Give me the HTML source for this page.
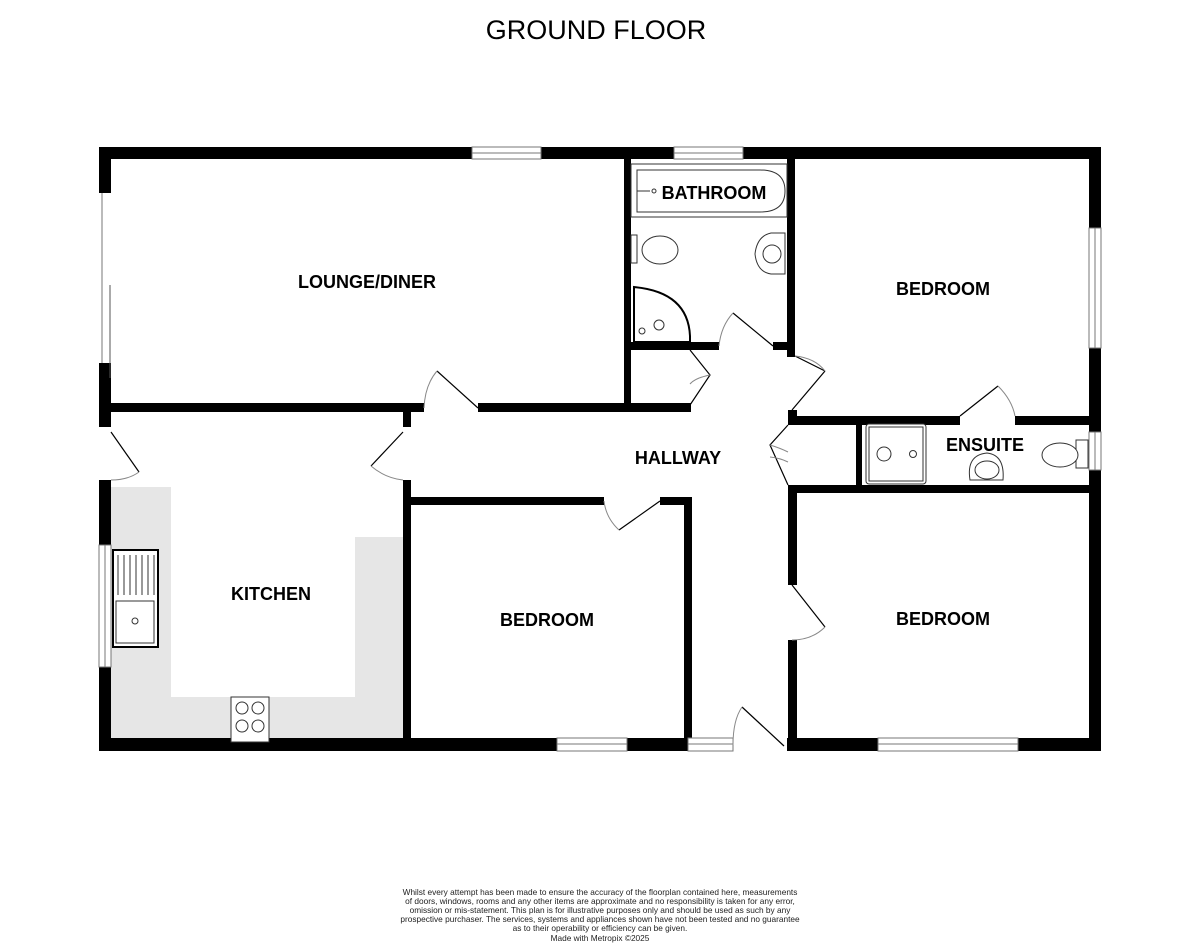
<!DOCTYPE html>
<html><head><meta charset="utf-8"><style>
html,body{margin:0;padding:0;background:#fff;}
svg{display:block}
text{font-family:"Liberation Sans",Arial,sans-serif}
.lbl{font-weight:bold;font-size:18px;text-anchor:middle}
.d{stroke:#000;stroke-width:1.2;fill:none}
.a{stroke:#888;stroke-width:1;fill:none}
.f{stroke:#333;stroke-width:1;fill:#fff}
</style></head><body>
<svg width="1200" height="946" viewBox="0 0 1200 946" xmlns="http://www.w3.org/2000/svg">
<text x="596" y="39" font-size="27" text-anchor="middle">GROUND FLOOR</text>

<path d="M111 487 H171 V697 H355 V537 H403 V738 H111 Z" fill="#e6e6e6"/>

<g fill="#000">
<rect x="99" y="147" width="373" height="12"/>
<rect x="541" y="147" width="133" height="12"/>
<rect x="743" y="147" width="358" height="12"/>
<rect x="99" y="738" width="458" height="13"/>
<rect x="627" y="738" width="61" height="13"/>
<rect x="787" y="738" width="91" height="13"/>
<rect x="1018" y="738" width="83" height="13"/>
<rect x="99" y="147" width="12" height="46"/>
<rect x="99" y="363" width="12" height="64"/>
<rect x="99" y="480" width="12" height="65"/>
<rect x="99" y="667" width="12" height="84"/>
<rect x="1089" y="147" width="12" height="81"/>
<rect x="1089" y="348" width="12" height="84"/>
<rect x="1089" y="470" width="12" height="281"/>
<rect x="99" y="403" width="325" height="9"/>
<rect x="478" y="403" width="213" height="9"/>
<rect x="403" y="403" width="8" height="24"/>
<rect x="403" y="480" width="8" height="271"/>
<rect x="624" y="155" width="7" height="256"/>
<rect x="624" y="342" width="95" height="8"/>
<rect x="773" y="342" width="22" height="8"/>
<rect x="787" y="155" width="8" height="202"/>
<rect x="788" y="410" width="9" height="15"/>
<rect x="788" y="485" width="9" height="100"/>
<rect x="788" y="640" width="9" height="111"/>
<rect x="788" y="416" width="172" height="9"/>
<rect x="1015" y="416" width="86" height="9"/>
<rect x="788" y="485" width="313" height="8"/>
<rect x="856" y="420" width="6" height="70"/>
<rect x="403" y="497" width="201" height="8"/>
<rect x="660" y="497" width="32" height="8"/>
<rect x="684" y="497" width="8" height="254"/>
</g>

<g fill="#fff" stroke="#777" stroke-width="1">
<rect x="472" y="147" width="69" height="12"/><line x1="472" y1="153" x2="541" y2="153"/>
<rect x="674" y="147" width="69" height="12"/><line x1="674" y1="153" x2="743" y2="153"/>
<rect x="557" y="738" width="70" height="13"/><line x1="557" y1="744" x2="627" y2="744"/>
<rect x="688" y="738" width="45" height="13"/><line x1="688" y1="744" x2="733" y2="744"/>
<rect x="878" y="738" width="140" height="13"/><line x1="878" y1="744" x2="1018" y2="744"/>
<rect x="1089" y="228" width="12" height="120"/><line x1="1095" y1="228" x2="1095" y2="348"/>
<rect x="1089" y="432" width="12" height="38"/><line x1="1095" y1="432" x2="1095" y2="470"/>
<rect x="99" y="545" width="12" height="122"/><line x1="105" y1="545" x2="105" y2="667"/>
</g>
<line x1="102" y1="193" x2="102" y2="363" stroke="#777"/>
<line x1="110" y1="285" x2="110" y2="378" stroke="#555"/>

<g>
<line class="d" x1="437" y1="371" x2="478" y2="408"/><path class="a" d="M424 408 Q425 385 437 371"/>
<line class="d" x1="111" y1="432" x2="139" y2="472"/><path class="a" d="M139 472 Q128 480 111 480"/>
<line class="d" x1="403" y1="432" x2="371" y2="466"/><path class="a" d="M371 466 Q385 478 403 480"/>
<line class="d" x1="733" y1="313" x2="773" y2="346"/><path class="a" d="M719 346 Q721 326 733 313"/>
<line class="d" x1="795" y1="356" x2="825" y2="371"/><line class="d" x1="825" y1="371" x2="792" y2="410"/><path class="a" d="M795 356 Q815 358 825 371"/>
<path class="d" d="M690 350 L710 375 L690 405"/><path class="a" d="M710 375 Q695 378 690 384"/>
<path class="d" d="M788 425 L770 445 L788 485"/><path class="a" d="M770 445 Q780 448 788 452 M770 457 Q780 458 788 462"/>
<line class="d" x1="960" y1="416" x2="998" y2="386"/><path class="a" d="M998 386 Q1012 400 1015 416"/>
<line class="d" x1="660" y1="501" x2="619" y2="530"/><path class="a" d="M604 501 Q606 518 619 530"/>
<line class="d" x1="792" y1="585" x2="825" y2="627"/><path class="a" d="M825 627 Q812 640 792 640"/>
<line class="d" x1="742" y1="707" x2="784" y2="746"/><path class="a" d="M733 745 Q733 720 742 707"/>
</g>

<rect x="631" y="164" width="156" height="53" class="f"/>
<path class="f" d="M637 170 H760 Q785 170 785 191 Q785 212 760 212 H637 Z"/>
<circle cx="654" cy="191" r="2" class="f"/><line x1="637" y1="191" x2="650" y2="191" stroke="#333"/>
<rect x="631" y="235" width="6" height="28" class="f"/><ellipse cx="660" cy="250" rx="18" ry="14" class="f"/>
<path class="f" d="M771 233 Q757 236 755 254 Q757 272 771 274 H785 V233 Z"/><circle cx="772" cy="254" r="9" class="f"/>
<path d="M634 287 V342 H690 V336 Q688 292 634 287 Z" fill="#fff" stroke="#000" stroke-width="2"/>
<circle cx="659" cy="325" r="5" class="f"/><circle cx="642" cy="331" r="3" class="f"/>
<rect x="866" y="424" width="60" height="60" rx="3" class="f"/><rect x="869" y="427" width="54" height="54" class="f"/>
<circle cx="884" cy="454" r="7" class="f"/><circle cx="913" cy="454" r="3.5" class="f"/>
<path class="f" d="M970 480 Q966 455 987 453 Q1005 455 1003 480 Z"/><ellipse cx="987" cy="470" rx="12" ry="9" class="f"/>
<rect x="1076" y="440" width="12" height="28" class="f"/><ellipse cx="1060" cy="455" rx="18" ry="12" class="f"/>
<rect x="113" y="550" width="45" height="97" fill="#fff" stroke="#000" stroke-width="2"/>
<g stroke="#555" stroke-width="1.2">
<line x1="118" y1="555" x2="118" y2="595"/><line x1="124" y1="555" x2="124" y2="595"/><line x1="130" y1="555" x2="130" y2="595"/><line x1="136" y1="555" x2="136" y2="595"/><line x1="142" y1="555" x2="142" y2="595"/><line x1="148" y1="555" x2="148" y2="595"/><line x1="154" y1="555" x2="154" y2="595"/>
</g>
<rect x="116" y="601" width="38" height="42" class="f"/><circle cx="135" cy="621" r="3" class="f"/>
<rect x="231" y="697" width="38" height="45" class="f"/>
<g class="f"><circle cx="242" cy="708" r="6"/><circle cx="258" cy="708" r="6"/><circle cx="242" cy="726" r="6"/><circle cx="258" cy="726" r="6"/></g>

<text class="lbl" x="367" y="288">LOUNGE/DINER</text>
<text class="lbl" x="714" y="199">BATHROOM</text>
<text class="lbl" x="943" y="295">BEDROOM</text>
<text class="lbl" x="678" y="464">HALLWAY</text>
<text class="lbl" x="985" y="451">ENSUITE</text>
<text class="lbl" x="271" y="600">KITCHEN</text>
<text class="lbl" x="547" y="626">BEDROOM</text>
<text class="lbl" x="943" y="625">BEDROOM</text>

<g font-size="8.3" text-anchor="middle" fill="#222">
<text x="600" y="895">Whilst every attempt has been made to ensure the accuracy of the floorplan contained here, measurements</text>
<text x="600" y="904">of doors, windows, rooms and any other items are approximate and no responsibility is taken for any error,</text>
<text x="600" y="913">omission or mis-statement. This plan is for illustrative purposes only and should be used as such by any</text>
<text x="600" y="922">prospective purchaser. The services, systems and appliances shown have not been tested and no guarantee</text>
<text x="600" y="931">as to their operability or efficiency can be given.</text>
<text x="600" y="941">Made with Metropix ©2025</text>
</g>
</svg>
</body></html>
